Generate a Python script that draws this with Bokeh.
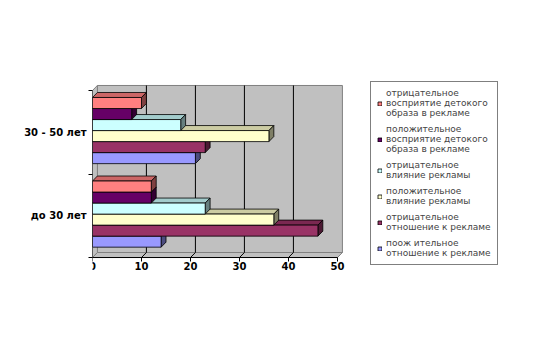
from bokeh.plotting import figure
from bokeh.models import Range1d, FixedTicker, Legend, LegendItem
from bokeh.core.properties import value
from bokeh.embed import file_html
from bokeh.resources import INLINE

# ---- data ----
categories = ["до 30 лет", "30 - 50 лет"]
x_ticks = [0, 10, 20, 30, 40, 50]

neg_perception = [12, 10]   # отрицательное восприятие детского образа
pos_perception = [12, 8]    # положительное восприятие детского образа
neg_influence = [23, 18]    # отрицательное влияние рекламы
pos_influence = [37, 36]    # положительное влияние рекламы
neg_attitude = [46, 23]     # отрицательное отношение к рекламе
pos_attitude = [14, 21]     # положительное отношение к рекламе

series_labels = [
    "отрицательное\nвосприятие детокого\nобраза в рекламе",
    "положительное\nвосприятие детокого\nобраза в рекламе",
    "отрицательное\nвлияние рекламы",
    "положительное\nвлияние рекламы",
    "отрицательное\nотношение к рекламе",
    "поож ительное\nотношение к рекламе",
]
series_values = [neg_perception, pos_perception, neg_influence,
                 pos_influence, neg_attitude, pos_attitude]
series_colors = ["#FF8080", "#660066", "#CCFFFF", "#FFFFCC", "#993366", "#9999FF"]


def shade(hexcol, f):
    h = hexcol.lstrip("#")
    r, g, b = (int(h[i:i + 2], 16) for i in (0, 2, 4))
    return "#%02x%02x%02x" % (int(r * f), int(g * f), int(b * f))


DX, DY = 1.0, 0.06          # 3-D depth in data units
XMAX = 50
NCAT = len(categories)
BAR_H = 0.132
OFFSET = 0.02

# frame is wider/taller than the chart box so that the legend fits inside it
p = figure(width=533, height=351, x_range=Range1d(0, 85.3), y_range=Range1d(-0.335, 2.359),
           output_backend="svg", toolbar_location=None,
           min_border_left=92, min_border_right=23, min_border_top=60, min_border_bottom=66)
p.background_fill_color = "white"
p.border_fill_color = "white"
p.outline_line_color = None
p.grid.visible = False

WALL = "#C0C0C0"
# back wall, left wall, floor
p.patch([DX, XMAX + DX, XMAX + DX, DX], [DY, DY, NCAT + DY, NCAT + DY],
        fill_color=WALL, line_color="#808080", line_width=1)
p.patch([0, DX, DX, 0], [0, DY, NCAT + DY, NCAT], fill_color=WALL, line_color="#808080", line_width=1)
p.patch([0, XMAX, XMAX + DX, DX], [0, 0, DY, DY], fill_color=WALL, line_color="#808080", line_width=1)

inner = [t for t in x_ticks if 0 < t < XMAX]
p.segment(x0=[t + DX for t in inner], y0=[DY] * len(inner),
          x1=[t + DX for t in inner], y1=[NCAT + DY] * len(inner), line_color="black", line_width=1)
p.segment(x0=inner, y0=[0] * len(inner), x1=[t + DX for t in inner], y1=[DY] * len(inner),
          line_color="black", line_width=1)

# bars (bottom bar of each group first)
nser = len(series_values)
front_renderers = [None] * nser
for i in reversed(range(nser)):
    vals = series_values[i]
    col = series_colors[i]
    centers = [j + 0.5 + OFFSET + (nser / 2 - 0.5 - i) * BAR_H for j in range(NCAT)]
    bots = [c - BAR_H / 2 for c in centers]
    tops = [c + BAR_H / 2 for c in centers]
    top_xs = [[0, DX, v + DX, v] for v in vals]
    top_ys = [[t, t + DY, t + DY, t] for t in tops]
    side_xs = [[v, v + DX, v + DX, v] for v in vals]
    side_ys = [[b, b + DY, t + DY, t] for b, t in zip(bots, tops)]
    p.patches(top_xs, top_ys, fill_color=shade(col, 0.8), line_color="black", line_width=0.8)
    p.patches(side_xs, side_ys, fill_color=shade(col, 0.5), line_color="black", line_width=0.8)
    front_renderers[i] = p.quad(left=0, right=vals, bottom=bots, top=tops,
                                fill_color=col, line_color="black", line_width=0.8)

# front axis lines
p.line([0, 0], [0, NCAT], line_color="black", line_width=1)
p.line([0, XMAX], [0, 0], line_color="black", line_width=1)

p.xaxis.fixed_location = 0
p.xaxis.ticker = FixedTicker(ticks=x_ticks, minor_ticks=[])
p.xaxis.axis_line_color = None
p.xaxis.major_tick_out = 4
p.xaxis.major_tick_in = 0
p.xaxis.major_tick_line_color = "black"
p.xaxis.major_label_standoff = 0
p.xaxis.major_label_text_font = "DejaVu Sans"
p.xaxis.major_label_text_font_style = "bold"
p.xaxis.major_label_text_font_size = "10px"
p.xaxis.major_label_text_color = "black"

cat_pos = [j + 0.5 for j in range(NCAT)]
p.yaxis.ticker = FixedTicker(ticks=cat_pos, minor_ticks=list(range(NCAT + 1)))
p.yaxis.major_label_overrides = {pos: lab for pos, lab in zip(cat_pos, categories)}
p.yaxis.axis_line_color = None
p.yaxis.major_tick_out = 0
p.yaxis.major_tick_in = 0
p.yaxis.minor_tick_out = 4
p.yaxis.minor_tick_in = 0
p.yaxis.minor_tick_line_color = "black"
p.yaxis.major_label_standoff = 2
p.yaxis.major_label_text_font = "DejaVu Sans"
p.yaxis.major_label_text_font_style = "bold"
p.yaxis.major_label_text_font_size = "10px"
p.yaxis.major_label_text_color = "black"

# ---- legend ----
legend = Legend(
    items=[LegendItem(label=lab, renderers=[front_renderers[i]]) for i, lab in enumerate(series_labels)],
    location=(278, 20),
    orientation="vertical",
    glyph_width=5, glyph_height=5,
    label_standoff=4,
    padding=6,
    spacing=6,
    margin=0,
    label_text_font="DejaVu Sans",
    label_text_font_size="9px",
    label_text_line_height=0.85,
    label_height=5,
    border_line_color="black",
    border_line_width=1,
    background_fill_color="white",
    background_fill_alpha=1.0,
)
p.add_layout(legend, "center")

open("out.html", "w").write(file_html(p, INLINE))
